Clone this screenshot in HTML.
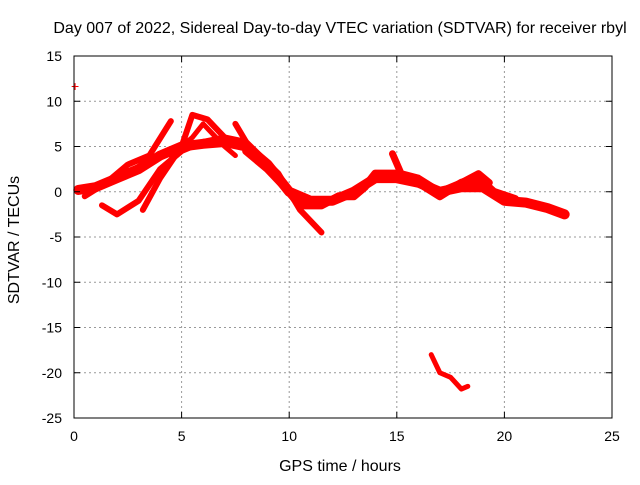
<!DOCTYPE html>
<html><head><meta charset="utf-8"><style>
body{margin:0;background:#fff;}
svg text{font-family:"Liberation Sans",sans-serif;font-size:14px;fill:#000;}
svg text.big{font-size:16px;}
</style></head><body>
<svg id="c" width="640" height="480">
<rect width="640" height="480" fill="#fff"/>
<g id="grid"></g><g id="data"></g><g id="axes"></g>
<text class="big" x="340" y="33" text-anchor="middle">Day 007 of 2022, Sidereal Day-to-day VTEC variation (SDTVAR) for receiver rbyl</text>
<text class="big" x="340" y="471" text-anchor="middle">GPS time / hours</text>
<text class="big" transform="translate(19,240) rotate(-90)" text-anchor="middle">SDTVAR / TECUs</text>
</svg>
<script>
const xTicks=[0,5,10,15,20,25];
const yTicks=[15,10,5,0,-5,-10,-15,-20,-25];
const trackAx=[0.2,1,2,3,4,5,6,7,8,9,10,11,12,13,14,15,16,17,18,19,20,21,22,22.8];
const trackAy=[0.2,0.5,1.5,2.5,4,5,5.3,5.5,5,3,0,-1,-1,0,1.5,1.5,1,0,0.5,0.5,-1,-1.2,-1.8,-2.5];
const trackA2x=[8,9,9.8,10.5,11.5,12.3,13,13.5,14,15,16,17,18,18.8,19.5,20.5];
const trackA2y=[4.5,2.5,0.5,-1.5,-1.5,-0.5,-0.5,0.5,2,2,1,-0.5,1,1.5,0,-0.8];
const trackBx=[1.3,2,3,4,5,6,7,8];
const trackBy=[-1.5,-2.5,-1,2.5,4.5,5.5,6,5.5];
const trackCx=[0.5,1.5,2.5,3.5,4.5];
const trackCy=[-0.5,1,3,4,7.8];
const trackDx=[3.2,4,5,5.5,6.2,7,7.5];
const trackDy=[-2,1.5,5,8.5,8,6,5.5];
const trackEx=[4.5,5.5,6,7,7.5];
const trackEy=[4,6,7.5,5,4];
const trackFx=[7.5,8,9.5,10.5,11.5];
const trackFy=[7.5,5.5,2,-2,-4.5];
const trackGx=[14.8,15.2,16,17,18,18.8,19.3];
const trackGy=[4.2,2,1.5,0,1,2,1];
const trackHx=[16.6,17,17.5,18,18.3];
const trackHy=[-18,-20,-20.5,-21.8,-21.5];
const ptX=[0.05], ptY=[11.7];
const X=v=>74+v*(612-74)/25, Y=v=>56+(15-v)*(418-56)/40;
const NS='http://www.w3.org/2000/svg';
function mk(t,a,p){const e=document.createElementNS(NS,t);for(const k in a)e.setAttribute(k,a[k]);p.appendChild(e);return e;}
const grid=document.getElementById('grid'),axes=document.getElementById('axes'),data=document.getElementById('data');
xTicks.forEach(t=>{
 if(t>0&&t<25){const l=mk('line',{x1:X(t),x2:X(t),y1:56,y2:418,stroke:'#999','stroke-dasharray':'2,3'},grid);
 }
 const tx=mk('text',{x:X(t),y:441,'text-anchor':'middle'},axes);tx.textContent=t;
 
 mk('line',{x1:X(t),x2:X(t),y1:418,y2:412,stroke:'#000'},axes);mk('line',{x1:X(t),x2:X(t),y1:56,y2:62,stroke:'#000'},axes);
});
yTicks.forEach(t=>{
 if(t<15&&t>-25){const l=mk('line',{x1:74,x2:612,y1:Y(t),y2:Y(t),stroke:'#999','stroke-dasharray':'2,3'},grid);
 }
 const tx=mk('text',{x:62,y:Y(t)+5,'text-anchor':'end'},axes);tx.textContent=t;
 
 mk('line',{x1:74,x2:80,y1:Y(t),y2:Y(t),stroke:'#000'},axes);mk('line',{x1:612,x2:606,y1:Y(t),y2:Y(t),stroke:'#000'},axes);
});
const fr=mk('rect',{x:74,y:56,width:538,height:362,fill:'none',stroke:'#000'},axes);

[[trackAx,trackAy,10],[trackA2x,trackA2y,8],[trackBx,trackBy,6],[trackCx,trackCy,6],[trackDx,trackDy,6],[trackEx,trackEy,5],[trackFx,trackFy,6],[trackGx,trackGy,7],[trackHx,trackHy,5]].forEach(([xs,ys,w])=>{
 const p=mk('polyline',{points:xs.map((x,i)=>X(x)+','+Y(ys[i])).join(' '),fill:'none',stroke:'#f00','stroke-width':w,'stroke-linejoin':'round','stroke-linecap':'round'},data);
 
});
ptX.forEach((x,i)=>{const t=mk('text',{x:X(x),y:Y(ptY[i])+5,'text-anchor':'middle',style:'fill:#f00'},data);t.textContent='+';
 });
</script>
</body></html>
